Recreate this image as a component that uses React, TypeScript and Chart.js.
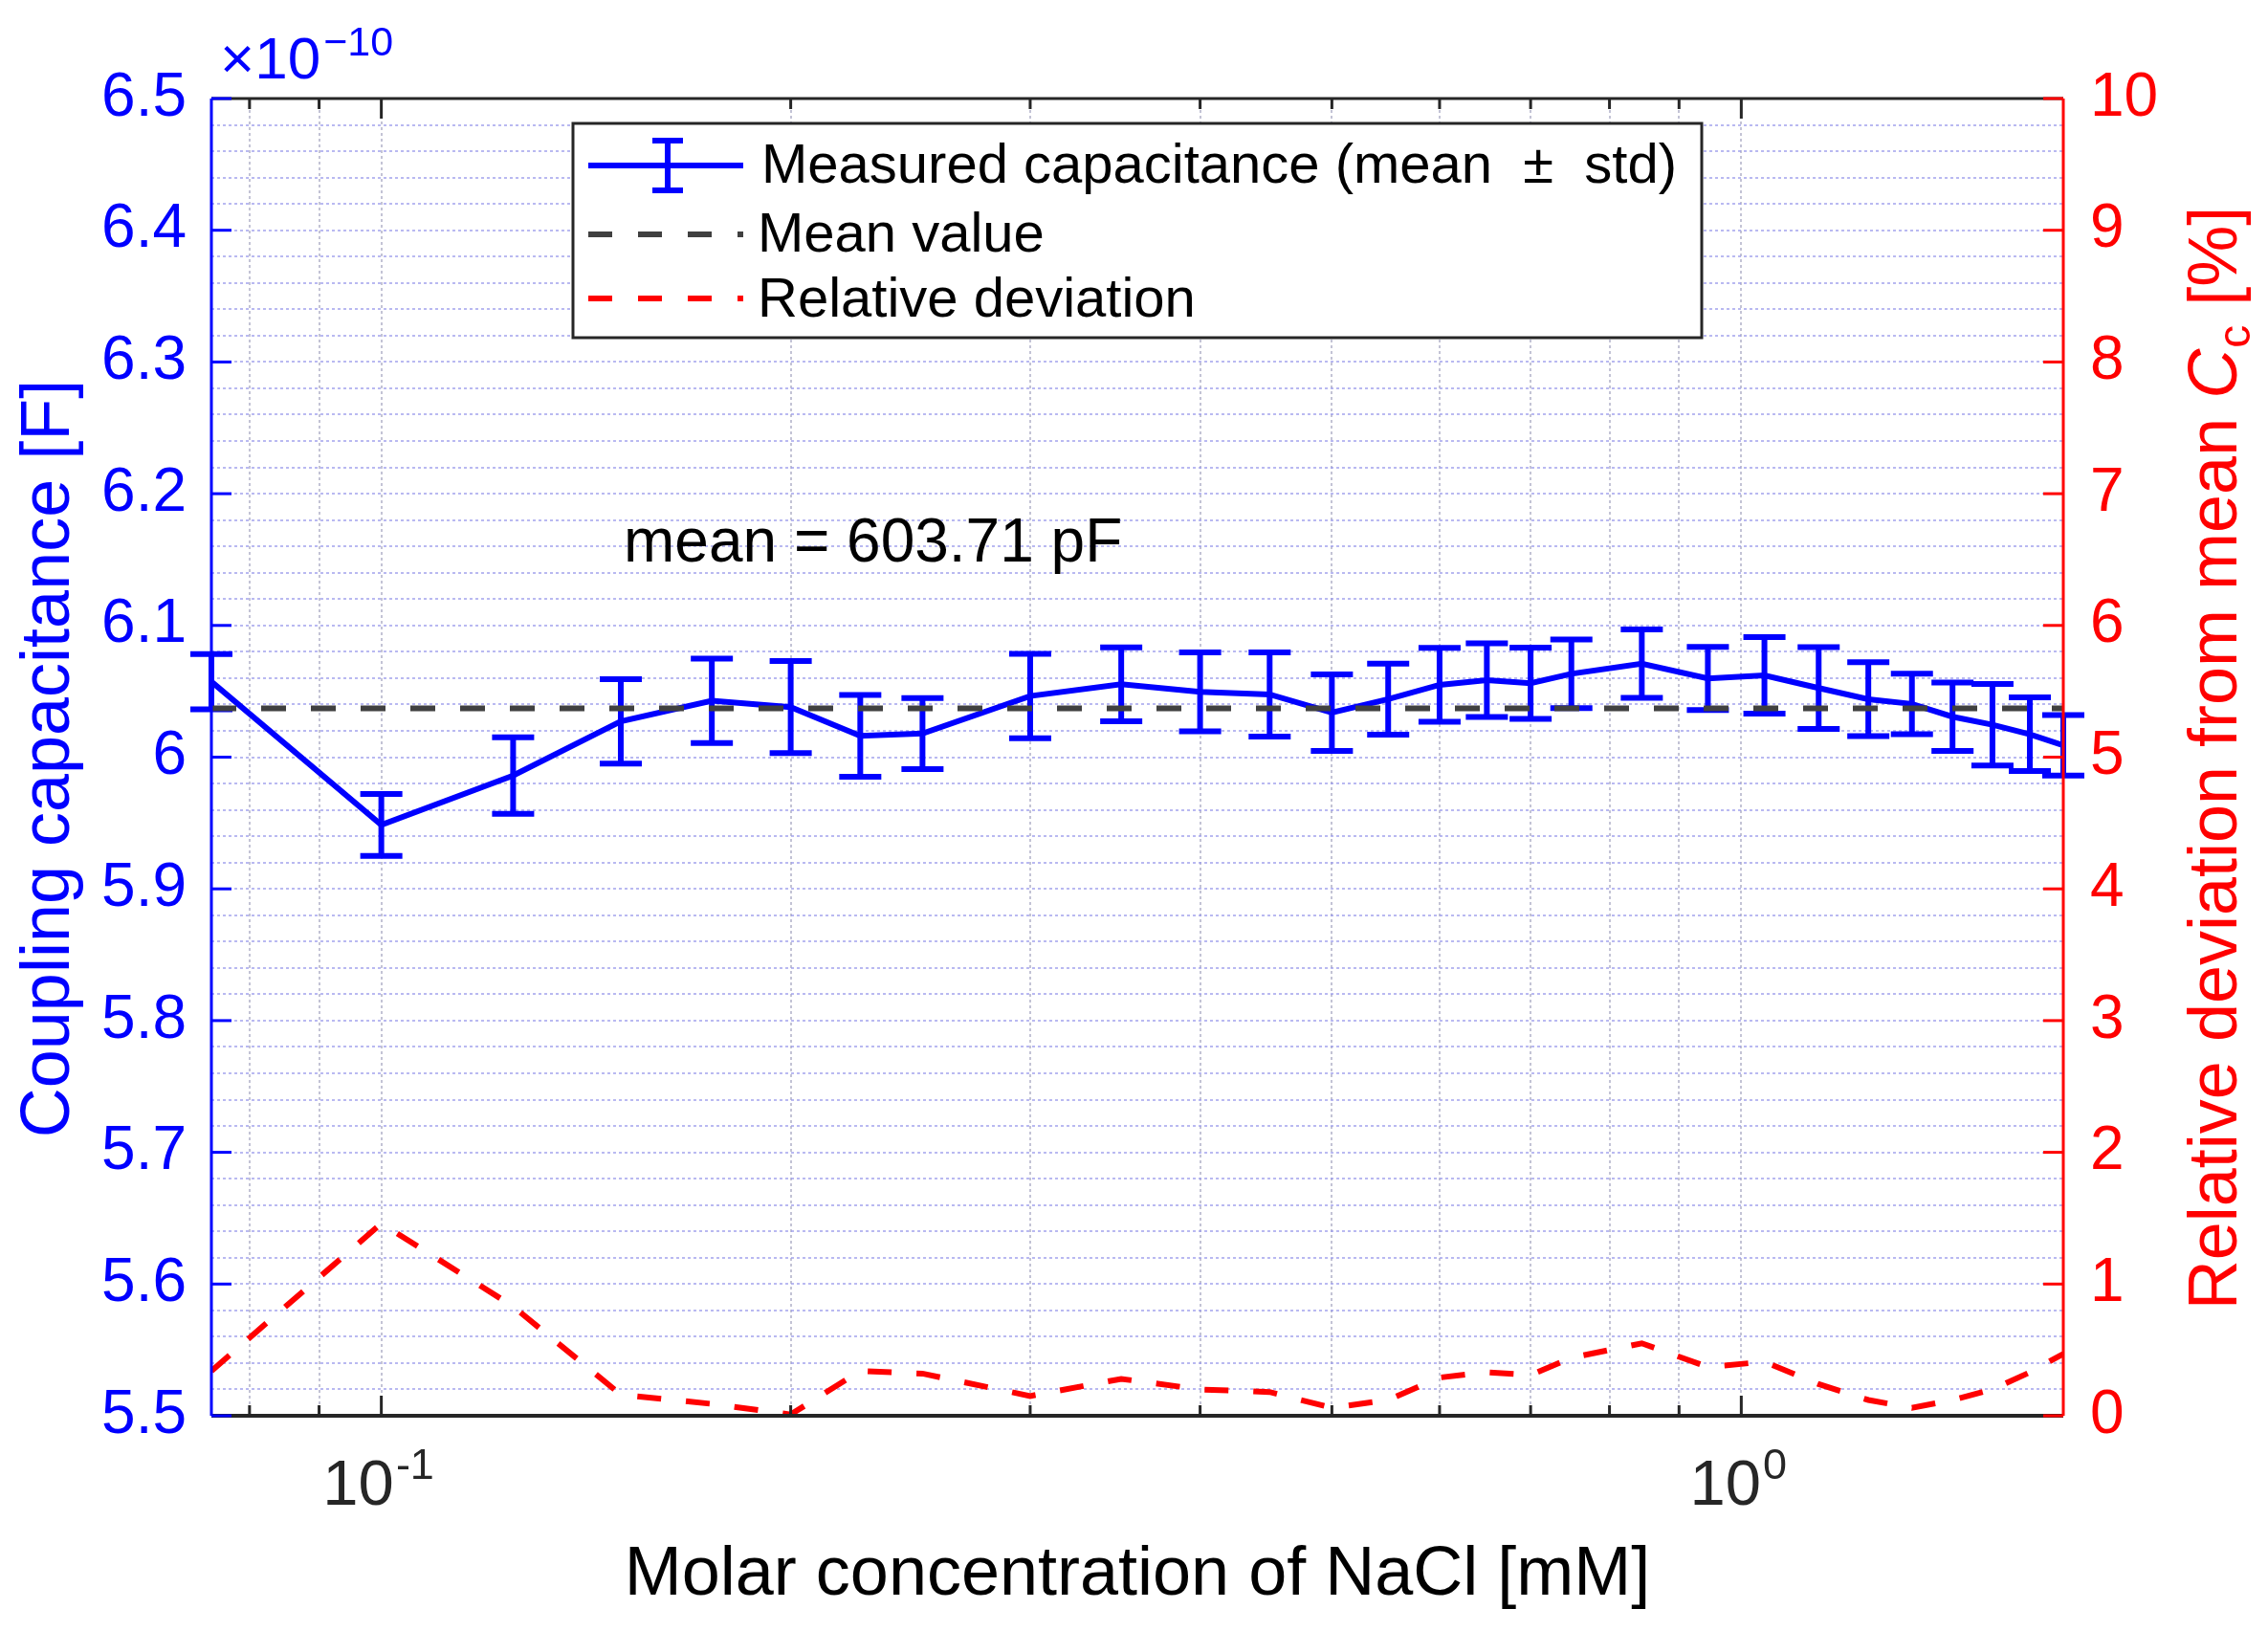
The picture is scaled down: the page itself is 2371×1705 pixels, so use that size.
import { useEffect, useRef } from "react";
import { Chart, registerables, Plugin, ChartConfiguration } from "chart.js";

Chart.register(...registerables);

// NaCl concentration [mM]
const concentration = [
  0.075, 0.1, 0.125, 0.15, 0.175, 0.2, 0.225, 0.25, 0.3, 0.35, 0.4, 0.45, 0.5, 0.55,
  0.6, 0.65, 0.7, 0.75, 0.845, 0.945, 1.04, 1.14, 1.24, 1.335, 1.43, 1.53, 1.63, 1.725,
];
// coupling capacitance, mean of repeats (x 1e-10 F)
const capMean = [
  6.0573, 5.9486, 5.986, 6.0271, 6.0428, 6.038, 6.0162, 6.0179, 6.0464, 6.0553, 6.0496,
  6.0476, 6.0338, 6.044, 6.0549, 6.0585, 6.0561, 6.0633, 6.071, 6.0597, 6.0621, 6.0525,
  6.044, 6.0404, 6.0307, 6.0246, 6.0174, 6.009,
];
// standard deviation (x 1e-10 F)
const capStd = [
  0.021, 0.0235, 0.029, 0.032, 0.032, 0.035, 0.031, 0.027, 0.032, 0.028, 0.03, 0.032,
  0.029, 0.027, 0.028, 0.028, 0.027, 0.026, 0.026, 0.024, 0.029, 0.031, 0.028, 0.023,
  0.026, 0.031, 0.028, 0.023,
];
// relative deviation from the mean [%]
const relDeviation = [
  0.34, 1.46, 0.83, 0.16, 0.09, 0.01, 0.34, 0.32, 0.15, 0.28, 0.2, 0.18, 0.06, 0.12,
  0.29, 0.33, 0.31, 0.44, 0.55, 0.37, 0.41, 0.24, 0.12, 0.06, 0.12, 0.2, 0.33, 0.47,
];
const overallMean = 6.0371; // 603.71 pF

const xGridTicks = [0.08, 0.09, 0.1, 0.2, 0.3, 0.4, 0.5, 0.6, 0.7, 0.8, 0.9, 1];
const xMajorTicks = [0.1, 1];
const xMajorExp = ["-1", "0"];
const yLeftTicks = [5.5, 5.6, 5.7, 5.8, 5.9, 6, 6.1, 6.2, 6.3, 6.4, 6.5];
const yLeftLabels = ["5.5", "5.6", "5.7", "5.8", "5.9", "6", "6.1", "6.2", "6.3", "6.4", "6.5"];
const yRightTicks = [0, 1, 2, 3, 4, 5, 6, 7, 8, 9, 10];
const legendLabels = ["Measured capacitance (mean  \u00b1  std)", "Mean value", "Relative deviation"];

const FONT = '"Liberation Sans", Arial, Helvetica, sans-serif';
const BLUE = "#0000ff";
const RED = "#ff0000";
const GRAY = "#404040";
const AXIS = "#262626";
const LW = 6;

const overlay: Plugin<"line"> = {
  id: "overlay",
  afterDatasetDraw(chart, args) {
    if (args.index !== 0) return;
    const ctx = chart.ctx;
    const xs = chart.scales.x;
    const ys = chart.scales.y;
    ctx.save();
    ctx.strokeStyle = BLUE;
    ctx.lineWidth = LW;
    ctx.setLineDash([]);
    concentration.forEach((c, i) => {
      const px = xs.getPixelForValue(c);
      const top = ys.getPixelForValue(capMean[i] + capStd[i]);
      const bot = ys.getPixelForValue(capMean[i] - capStd[i]);
      ctx.beginPath();
      ctx.moveTo(px, top);
      ctx.lineTo(px, bot);
      ctx.moveTo(px - 22, top);
      ctx.lineTo(px + 22, top);
      ctx.moveTo(px - 22, bot);
      ctx.lineTo(px + 22, bot);
      ctx.stroke();
    });
    ctx.restore();
  },
  afterDraw(chart) {
    const ctx = chart.ctx;
    const ca = chart.chartArea;
    const xs = chart.scales.x;
    const ys = chart.scales.y;
    const yr = chart.scales.y1;
    const seg = (x1: number, y1: number, x2: number, y2: number) => {
      ctx.beginPath();
      ctx.moveTo(x1, y1);
      ctx.lineTo(x2, y2);
      ctx.stroke();
    };
    ctx.save();
    ctx.setLineDash([]);
    ctx.lineWidth = 3;

    // box: top and bottom
    ctx.strokeStyle = AXIS;
    seg(ca.left, ca.top, ca.right, ca.top);
    ctx.lineWidth = 4;
    seg(ca.left, ca.bottom, ca.right, ca.bottom);
    ctx.lineWidth = 3;
    xGridTicks.forEach((v) => {
      const px = xs.getPixelForValue(v);
      const len = xMajorTicks.includes(v) ? 21 : 11;
      seg(px, ca.top, px, ca.top + len);
      seg(px, ca.bottom, px, ca.bottom - len);
    });
    // left axis
    ctx.strokeStyle = BLUE;
    seg(ca.left, ca.top, ca.left, ca.bottom);
    yLeftTicks.forEach((v) => {
      const py = ys.getPixelForValue(v);
      seg(ca.left, py, ca.left + 21, py);
    });
    // right axis
    ctx.strokeStyle = RED;
    seg(ca.right, ca.top, ca.right, ca.bottom);
    yRightTicks.forEach((v) => {
      const py = yr.getPixelForValue(v);
      seg(ca.right - 21, py, ca.right, py);
    });

    // x tick labels 10^n
    ctx.fillStyle = AXIS;
    ctx.textBaseline = "alphabetic";
    ctx.textAlign = "left";
    xMajorTicks.forEach((v, i) => {
      const px = xs.getPixelForValue(v);
      ctx.font = `67px ${FONT}`;
      const wBase = ctx.measureText("10").width;
      ctx.font = `45px ${FONT}`;
      const wExp = ctx.measureText(xMajorExp[i]).width;
      const x0 = px - (wBase + wExp) / 2 - 4;
      ctx.font = `67px ${FONT}`;
      ctx.fillText("10", x0, 1573);
      ctx.font = `45px ${FONT}`;
      ctx.fillText(xMajorExp[i], x0 + wBase + 2, 1546);
    });

    // exponent of left axis
    ctx.fillStyle = BLUE;
    ctx.font = `62px ${FONT}`;
    ctx.fillText("\u00d710", 230, 82);
    const wx = ctx.measureText("\u00d710").width;
    ctx.font = `43px ${FONT}`;
    ctx.fillText("\u221210", 230 + wx + 3, 58);

    // axis titles
    ctx.textAlign = "center";
    ctx.fillStyle = "#000000";
    ctx.font = `72px ${FONT}`;
    ctx.fillText("Molar concentration of NaCl [mM]", (ca.left + ca.right) / 2, 1667);

    ctx.save();
    ctx.translate(72, 793);
    ctx.rotate(-Math.PI / 2);
    ctx.fillStyle = BLUE;
    ctx.fillText("Coupling capacitance [F]", 0, 0);
    ctx.restore();

    ctx.save();
    ctx.translate(2338, 793);
    ctx.rotate(-Math.PI / 2);
    ctx.fillStyle = RED;
    ctx.textAlign = "left";
    const p1 = "Relative deviation from mean ";
    const p4 = " [%]";
    ctx.font = `72px ${FONT}`;
    const w1 = ctx.measureText(p1).width;
    const w4 = ctx.measureText(p4).width;
    ctx.font = `italic 72px ${FONT}`;
    const w2 = ctx.measureText("C").width;
    ctx.font = `48px ${FONT}`;
    const w3 = ctx.measureText("c").width;
    let cx = -(w1 + w2 + w3 + w4) / 2;
    ctx.font = `72px ${FONT}`;
    ctx.fillText(p1, cx, 0);
    cx += w1;
    ctx.font = `italic 72px ${FONT}`;
    ctx.fillText("C", cx, 0);
    cx += w2 + 1;
    ctx.font = `48px ${FONT}`;
    ctx.fillText("c", cx, 14);
    cx += w3;
    ctx.font = `72px ${FONT}`;
    ctx.fillText(p4, cx, 0);
    ctx.restore();

    // mean annotation
    ctx.textAlign = "left";
    ctx.fillStyle = "#000000";
    ctx.font = `64px ${FONT}`;
    ctx.fillText("mean = 603.71 pF", 652, 587);

    // legend
    const lx = 599;
    const ly = 129;
    ctx.fillStyle = "#ffffff";
    ctx.fillRect(lx, ly, 1180, 224);
    ctx.strokeStyle = AXIS;
    ctx.lineWidth = 3;
    ctx.strokeRect(lx, ly, 1180, 224);
    const rows = [173, 245, 312];
    // row 1: errorbar glyph
    ctx.strokeStyle = BLUE;
    ctx.lineWidth = LW;
    seg(615, rows[0], 777, rows[0]);
    seg(698, rows[0] - 26, 698, rows[0] + 26);
    seg(682, rows[0] - 26, 714, rows[0] - 26);
    seg(682, rows[0] + 26, 714, rows[0] + 26);
    // row 2/3: dashed samples
    ctx.setLineDash([25, 27]);
    ctx.strokeStyle = GRAY;
    seg(615, rows[1], 777, rows[1]);
    ctx.strokeStyle = RED;
    seg(615, rows[2], 777, rows[2]);
    ctx.setLineDash([]);
    ctx.fillStyle = "#000000";
    ctx.font = `58px ${FONT}`;
    ctx.fillText(legendLabels[0], 796, rows[0] + 18);
    ctx.fillText(legendLabels[1], 792, rows[1] + 18);
    ctx.fillText(legendLabels[2], 792, rows[2] + 19);

    ctx.restore();
  },
};

const config: ChartConfiguration<"line"> = {
  type: "line",
  data: {
    datasets: [
      {
        label: legendLabels[0],
        data: concentration.map((c, i) => ({ x: c, y: capMean[i] })),
        borderColor: BLUE,
        borderWidth: LW,
        pointRadius: 0,
        tension: 0,
        yAxisID: "y",
        order: 3,
      },
      {
        label: legendLabels[1],
        data: [
          { x: concentration[0], y: overallMean },
          { x: concentration[concentration.length - 1], y: overallMean },
        ],
        borderColor: GRAY,
        borderWidth: LW,
        borderDash: [26, 26],
        pointRadius: 0,
        yAxisID: "y",
        order: 2,
      },
      {
        label: legendLabels[2],
        data: concentration.map((c, i) => ({ x: c, y: relDeviation[i] })),
        borderColor: RED,
        borderWidth: LW,
        borderDash: [25, 26],
        pointRadius: 0,
        tension: 0,
        yAxisID: "y1",
        order: 1,
      },
    ],
  },
  options: {
    responsive: false,
    animation: false,
    layout: { padding: { top: 103, left: 0, right: 0, bottom: 0 } },
    plugins: {
      legend: { display: false },
      tooltip: { enabled: false },
    },
    scales: {
      x: {
        type: "logarithmic",
        min: concentration[0],
        max: concentration[concentration.length - 1],
        bounds: "data",
        afterBuildTicks: (s) => {
          s.ticks = xGridTicks.map((v) => ({ value: v }));
        },
        afterFit: (s) => {
          s.height = 225;
        },
        ticks: { display: false },
        grid: { color: "rgba(170,170,195,0.7)", lineWidth: 2, drawTicks: false },
        border: { display: false, dash: [3, 3] },
      },
      y: {
        type: "linear",
        position: "left",
        min: 5.5,
        max: 6.5,
        afterFit: (s) => {
          s.width = 221;
        },
        ticks: {
          stepSize: 0.02,
          autoSkip: false,
          padding: 26,
          color: BLUE,
          font: { family: FONT, size: 64 },
          callback: (v) => {
            const k = yLeftTicks.findIndex((t) => Math.abs(t - Number(v)) < 1e-6);
            return k >= 0 ? yLeftLabels[k] : "";
          },
        },
        grid: { color: "rgba(155,155,235,0.7)", lineWidth: 2, drawTicks: false },
        border: { display: false, dash: [3, 3] },
      },
      y1: {
        type: "linear",
        position: "right",
        min: 0,
        max: 10,
        afterFit: (s) => {
          s.width = 214;
        },
        ticks: {
          stepSize: 1,
          autoSkip: false,
          padding: 28,
          color: RED,
          font: { family: FONT, size: 64 },
          callback: (v) => String(v),
        },
        grid: { drawOnChartArea: false, drawTicks: false },
        border: { display: false },
      },
    },
  },
  plugins: [overlay],
};

export default function App() {
  const canvasRef = useRef<HTMLCanvasElement>(null);
  const chartRef = useRef<Chart<"line"> | null>(null);

  useEffect(() => {
    if (!canvasRef.current) return;
    const ctx = canvasRef.current.getContext("2d");
    if (!ctx) return;
    if (chartRef.current) chartRef.current.destroy();
    chartRef.current = new Chart(ctx, config);
    return () => {
      if (chartRef.current) {
        chartRef.current.destroy();
        chartRef.current = null;
      }
    };
  }, []);

  return (
    <div style={{ position: "fixed", left: 0, top: 0, width: 2371, height: 1705, background: "#ffffff" }}>
      <canvas ref={canvasRef} width={2371} height={1705} style={{ display: "block", width: 2371, height: 1705 }} />
    </div>
  );
}
